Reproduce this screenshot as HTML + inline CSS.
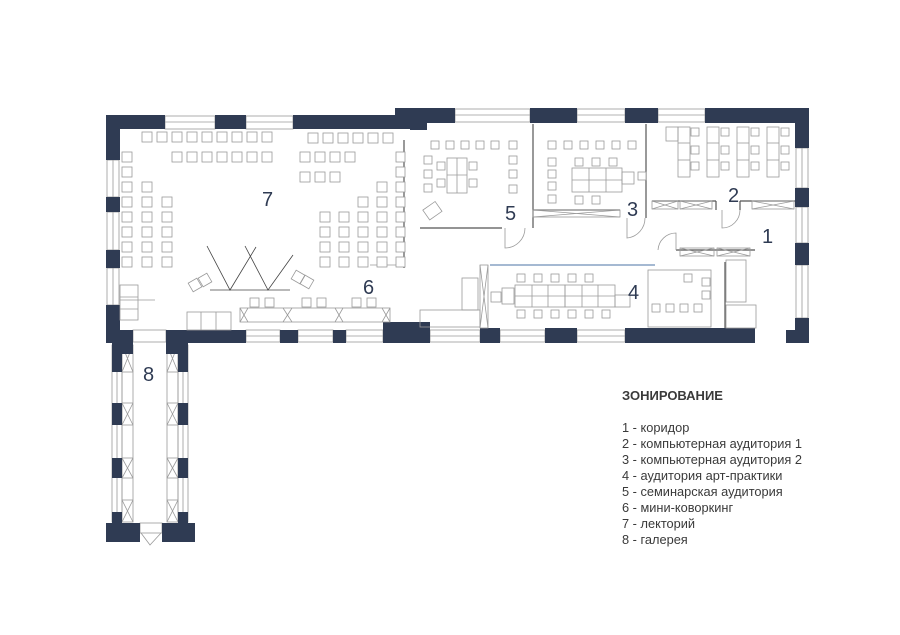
<!DOCTYPE html>
<html><head><meta charset="utf-8"><style>
body{margin:0;background:#fff;width:900px;height:635px;overflow:hidden}
svg{display:block}
.w{fill:#2f3b53}
.c{fill:#fff;stroke:#9a9a9a;stroke-width:0.8}
.l{stroke:#9a9a9a;stroke-width:0.8;fill:none}
.p{stroke:#555;stroke-width:1.2;fill:none}
.n{font-family:"Liberation Sans",sans-serif;font-size:20px;fill:#2f3b53}
.t{font-family:"Liberation Sans","Noto Sans CJK SC",sans-serif;font-size:12.8px;fill:#3a3a3a}
</style></head><body>
<svg width="900" height="635" viewBox="0 0 900 635">
<g class="l">
<rect x="165" y="116" width="50" height="13"/><line x1="165" y1="122" x2="215" y2="122"/>
<rect x="246" y="116" width="47" height="13"/><line x1="246" y1="122" x2="293" y2="122"/>
<rect x="455" y="109" width="75" height="13"/><line x1="455" y1="115" x2="530" y2="115"/>
<rect x="577" y="109" width="48" height="13"/><line x1="577" y1="115" x2="625" y2="115"/>
<rect x="658" y="109" width="47" height="13"/><line x1="658" y1="115" x2="705" y2="115"/>
<rect x="107" y="160" width="12" height="37"/><line x1="113" y1="160" x2="113" y2="197"/>
<rect x="107" y="212" width="12" height="38"/><line x1="113" y1="212" x2="113" y2="250"/>
<rect x="107" y="268" width="12" height="37"/><line x1="113" y1="268" x2="113" y2="305"/>
<rect x="796" y="148" width="12" height="40"/><line x1="802" y1="148" x2="802" y2="188"/>
<rect x="796" y="207" width="12" height="36"/><line x1="802" y1="207" x2="802" y2="243"/>
<rect x="796" y="265" width="12" height="53"/><line x1="802" y1="265" x2="802" y2="318"/>
<rect x="246" y="330" width="34" height="12"/><line x1="246" y1="336" x2="280" y2="336"/>
<rect x="298" y="330" width="35" height="12"/><line x1="298" y1="336" x2="333" y2="336"/>
<rect x="346" y="330" width="37" height="12"/><line x1="346" y1="336" x2="383" y2="336"/>
<rect x="430" y="330" width="50" height="12"/><line x1="430" y1="336" x2="480" y2="336"/>
<rect x="500" y="330" width="45" height="12"/><line x1="500" y1="336" x2="545" y2="336"/>
<rect x="577" y="330" width="48" height="12"/><line x1="577" y1="336" x2="625" y2="336"/>
<rect x="133" y="330" width="33" height="12"/>
<rect x="112" y="345" width="10" height="177"/><line x1="117" y1="345" x2="117" y2="522"/>
<rect x="178" y="345" width="10" height="177"/><line x1="183" y1="345" x2="183" y2="522"/>
<rect x="122" y="345" width="11" height="177"/><rect x="167" y="345" width="11" height="177"/>
</g>
<g class="l">
<path d="M122 345 L133 372 M133 345 L122 372 M122 403 L133 425 M133 403 L122 425 M122 458 L133 478 M133 458 L122 478 M122 500 L133 522 M133 500 L122 522"/>
<path d="M167 345 L178 372 M178 345 L167 372 M167 403 L178 425 M178 403 L167 425 M167 458 L178 478 M178 458 L167 478 M167 500 L178 522 M178 500 L167 522"/>
<line x1="122" y1="372" x2="133" y2="372"/><line x1="167" y1="372" x2="178" y2="372"/>
<line x1="122" y1="403" x2="133" y2="403"/><line x1="167" y1="403" x2="178" y2="403"/>
<line x1="122" y1="425" x2="133" y2="425"/><line x1="167" y1="425" x2="178" y2="425"/>
<line x1="122" y1="458" x2="133" y2="458"/><line x1="167" y1="458" x2="178" y2="458"/>
<line x1="122" y1="478" x2="133" y2="478"/><line x1="167" y1="478" x2="178" y2="478"/>
<line x1="122" y1="500" x2="133" y2="500"/><line x1="167" y1="500" x2="178" y2="500"/>
<rect x="140" y="523" width="22" height="10"/>
<path d="M141 533 L150 545 L161 533"/>
</g>
<g class="w">
<rect x="106" y="115" width="59" height="14"/>
<rect x="215" y="115" width="31" height="14"/>
<rect x="293" y="115" width="119" height="14"/>
<rect x="106" y="115" width="14" height="45"/>
<rect x="106" y="197" width="14" height="15"/>
<rect x="106" y="250" width="14" height="18"/>
<rect x="106" y="305" width="14" height="38"/>
<rect x="106" y="330" width="27" height="13"/>
<rect x="166" y="330" width="80" height="13"/>
<rect x="280" y="330" width="18" height="13"/>
<rect x="333" y="330" width="13" height="13"/>
<rect x="383" y="322" width="47" height="21"/>
<rect x="395" y="108" width="60" height="15"/>
<rect x="410" y="108" width="17" height="22"/>
<rect x="530" y="108" width="47" height="15"/>
<rect x="625" y="108" width="33" height="15"/>
<rect x="705" y="108" width="104" height="15"/>
<rect x="795" y="108" width="14" height="40"/>
<rect x="795" y="188" width="14" height="19"/>
<rect x="795" y="243" width="14" height="22"/>
<rect x="795" y="318" width="14" height="25"/>
<rect x="786" y="330" width="23" height="13"/>
<rect x="480" y="328" width="20" height="15"/>
<rect x="545" y="328" width="32" height="15"/>
<rect x="625" y="328" width="130" height="15"/>
<rect x="112" y="343" width="10" height="29"/><rect x="178" y="343" width="10" height="29"/>
<rect x="112" y="403" width="10" height="22"/><rect x="178" y="403" width="10" height="22"/>
<rect x="112" y="458" width="10" height="20"/><rect x="178" y="458" width="10" height="20"/>
<rect x="112" y="512" width="10" height="30"/><rect x="178" y="512" width="10" height="30"/>
<rect x="106" y="523" width="34" height="19"/><rect x="162" y="523" width="33" height="19"/>
<rect x="112" y="340" width="21" height="14"/><rect x="166" y="340" width="22" height="14"/>
</g>
<g class="p">
<line x1="533" y1="124" x2="533" y2="228"/>
<line x1="420" y1="228" x2="502" y2="228"/>
<line x1="533" y1="210" x2="620" y2="210"/>
<line x1="646" y1="124" x2="646" y2="218"/>
<line x1="652" y1="201" x2="716" y2="201"/>
<line x1="740" y1="201" x2="795" y2="201"/>
<line x1="716" y1="201" x2="716" y2="210"/><line x1="740" y1="201" x2="740" y2="210"/>
<line x1="725" y1="262" x2="725" y2="328"/>
<line x1="676" y1="250" x2="755" y2="250"/>
<line x1="404" y1="140" x2="404" y2="268"/>
</g>
<line x1="490" y1="265" x2="655" y2="265" stroke="#6f8fb8" stroke-width="1.2"/>
<g class="l">
<path d="M505 228 L505 248 A20 20 0 0 0 525 228"/>
<path d="M627 218 L627 238 A20 20 0 0 0 645 218"/>
<path d="M722 210 L722 228 A18 18 0 0 0 740 210"/>
<path d="M676 250 L676 233 A18 18 0 0 0 658 250"/>
<rect x="533" y="210" width="87" height="7"/><path d="M533 210 L620 217 M533 217 L620 210"/>
<rect x="652" y="201" width="26" height="8"/><path d="M652 201 L678 209 M652 209 L678 201"/>
<rect x="680" y="201" width="32" height="8"/><path d="M680 201 L712 209 M680 209 L712 201"/>
<rect x="752" y="201" width="42" height="8"/><path d="M752 201 L794 209 M752 209 L794 201"/>
<rect x="680" y="248" width="34" height="8"/><path d="M680 248 L714 256 M680 256 L714 248"/>
<rect x="717" y="248" width="33" height="8"/><path d="M717 248 L750 256 M717 256 L750 248"/>
<rect x="480" y="265" width="8" height="63"/><path d="M480 265 L488 328 M488 265 L480 328"/>
<rect x="515" y="285" width="50" height="22"/><rect x="565" y="285" width="50" height="22"/>
<line x1="515" y1="296" x2="615" y2="296"/><line x1="532" y1="285" x2="532" y2="307"/><line x1="548" y1="285" x2="548" y2="307"/><line x1="582" y1="285" x2="582" y2="307"/><line x1="598" y1="285" x2="598" y2="307"/>
<rect x="615" y="295" width="15" height="12"/><rect x="502" y="288" width="12" height="16"/><rect x="491" y="292" width="10" height="10"/>
<rect x="648" y="270" width="63" height="57"/>
<rect x="726" y="260" width="20" height="42"/><rect x="726" y="305" width="30" height="23"/>
<rect x="420" y="310" width="60" height="17"/><rect x="462" y="278" width="16" height="32"/>
<line x1="210" y1="290" x2="290" y2="290" stroke="#444"/>
<path d="M207 246 L230 290 L256 247 M245 246 L268 290 L293 255" stroke="#444"/>
<rect x="190" y="280" width="10" height="10" transform="rotate(-30 195 285)"/>
<rect x="200" y="275" width="10" height="10" transform="rotate(-30 205 280)"/>
<rect x="293" y="272" width="10" height="10" transform="rotate(30 298 277)"/>
<rect x="302" y="277" width="10" height="10" transform="rotate(30 307 282)"/>
<rect x="120" y="285" width="18" height="35"/><line x1="120" y1="297" x2="138" y2="297"/><line x1="120" y1="309" x2="138" y2="309"/>
<rect x="187" y="312" width="44" height="18"/><line x1="201" y1="312" x2="201" y2="330"/><line x1="216" y1="312" x2="216" y2="330"/>
<rect x="240" y="308" width="150" height="14"/>
<path d="M240 308 L248 322 M248 308 L240 322 M283 308 L292 322 M292 308 L283 322 M335 308 L343 322 M343 308 L335 322 M382 308 L390 322 M390 308 L382 322"/>
<rect x="447" y="158" width="20" height="35"/><line x1="457" y1="158" x2="457" y2="193"/><line x1="447" y1="175" x2="467" y2="175"/>
<rect x="425" y="205" width="15" height="12" transform="rotate(-35 432 211)"/>
<rect x="572" y="168" width="50" height="24"/><line x1="572" y1="180" x2="622" y2="180"/><line x1="589" y1="168" x2="589" y2="192"/><line x1="606" y1="168" x2="606" y2="192"/>
<rect x="622" y="172" width="12" height="12"/>
<rect x="678" y="127" width="12" height="50"/><rect x="707" y="127" width="12" height="50"/><rect x="737" y="127" width="12" height="50"/><rect x="767" y="127" width="12" height="50"/>
<line x1="678" y1="143" x2="690" y2="143"/><line x1="678" y1="160" x2="690" y2="160"/>
<line x1="707" y1="143" x2="719" y2="143"/><line x1="707" y1="160" x2="719" y2="160"/>
<line x1="737" y1="143" x2="749" y2="143"/><line x1="737" y1="160" x2="749" y2="160"/>
<line x1="767" y1="143" x2="779" y2="143"/><line x1="767" y1="160" x2="779" y2="160"/>
<rect x="666" y="127" width="12" height="14"/>
<path d="M120 300 L155 300 M370 265 L405 265"/>
</g>
<g class="c">
<rect x="142" y="132" width="10" height="10"/><rect x="157" y="132" width="10" height="10"/><rect x="172" y="132" width="10" height="10"/><rect x="187" y="132" width="10" height="10"/><rect x="202" y="132" width="10" height="10"/><rect x="217" y="132" width="10" height="10"/><rect x="232" y="132" width="10" height="10"/><rect x="247" y="132" width="10" height="10"/><rect x="262" y="132" width="10" height="10"/>
<rect x="308" y="133" width="10" height="10"/><rect x="323" y="133" width="10" height="10"/><rect x="338" y="133" width="10" height="10"/><rect x="353" y="133" width="10" height="10"/><rect x="368" y="133" width="10" height="10"/><rect x="383" y="133" width="10" height="10"/>
<rect x="172" y="152" width="10" height="10"/><rect x="187" y="152" width="10" height="10"/><rect x="202" y="152" width="10" height="10"/><rect x="217" y="152" width="10" height="10"/><rect x="232" y="152" width="10" height="10"/><rect x="247" y="152" width="10" height="10"/><rect x="262" y="152" width="10" height="10"/>
<rect x="300" y="152" width="10" height="10"/><rect x="315" y="152" width="10" height="10"/><rect x="330" y="152" width="10" height="10"/><rect x="345" y="152" width="10" height="10"/>
<rect x="300" y="172" width="10" height="10"/><rect x="315" y="172" width="10" height="10"/><rect x="330" y="172" width="10" height="10"/>
<rect x="122" y="152" width="10" height="10"/><rect x="122" y="167" width="10" height="10"/><rect x="122" y="182" width="10" height="10"/><rect x="122" y="197" width="10" height="10"/><rect x="122" y="212" width="10" height="10"/><rect x="122" y="227" width="10" height="10"/><rect x="122" y="242" width="10" height="10"/><rect x="122" y="257" width="10" height="10"/>
<rect x="142" y="182" width="10" height="10"/><rect x="142" y="197" width="10" height="10"/><rect x="142" y="212" width="10" height="10"/><rect x="142" y="227" width="10" height="10"/><rect x="142" y="242" width="10" height="10"/><rect x="142" y="257" width="10" height="10"/>
<rect x="162" y="197" width="10" height="10"/><rect x="162" y="212" width="10" height="10"/><rect x="162" y="227" width="10" height="10"/><rect x="162" y="242" width="10" height="10"/><rect x="162" y="257" width="10" height="10"/>
<rect x="320" y="212" width="10" height="10"/><rect x="320" y="227" width="10" height="10"/><rect x="320" y="242" width="10" height="10"/><rect x="320" y="257" width="10" height="10"/>
<rect x="339" y="212" width="10" height="10"/><rect x="339" y="227" width="10" height="10"/><rect x="339" y="242" width="10" height="10"/><rect x="339" y="257" width="10" height="10"/>
<rect x="358" y="197" width="10" height="10"/><rect x="358" y="212" width="10" height="10"/><rect x="358" y="227" width="10" height="10"/><rect x="358" y="242" width="10" height="10"/><rect x="358" y="257" width="10" height="10"/>
<rect x="377" y="182" width="10" height="10"/><rect x="377" y="197" width="10" height="10"/><rect x="377" y="212" width="10" height="10"/><rect x="377" y="227" width="10" height="10"/><rect x="377" y="242" width="10" height="10"/><rect x="377" y="257" width="10" height="10"/>
<rect x="396" y="152" width="9" height="10"/><rect x="396" y="167" width="9" height="10"/><rect x="396" y="182" width="9" height="10"/><rect x="396" y="197" width="9" height="10"/><rect x="396" y="212" width="9" height="10"/><rect x="396" y="227" width="9" height="10"/><rect x="396" y="242" width="9" height="10"/><rect x="396" y="257" width="9" height="10"/>
<rect x="250" y="298" width="9" height="9"/><rect x="265" y="298" width="9" height="9"/><rect x="302" y="298" width="9" height="9"/><rect x="317" y="298" width="9" height="9"/><rect x="352" y="298" width="9" height="9"/><rect x="367" y="298" width="9" height="9"/>
<rect x="431" y="141" width="8" height="8"/><rect x="446" y="141" width="8" height="8"/><rect x="461" y="141" width="8" height="8"/><rect x="476" y="141" width="8" height="8"/><rect x="491" y="141" width="8" height="8"/><rect x="509" y="141" width="8" height="8"/>
<rect x="424" y="156" width="8" height="8"/><rect x="424" y="170" width="8" height="8"/><rect x="424" y="184" width="8" height="8"/>
<rect x="509" y="156" width="8" height="8"/><rect x="509" y="170" width="8" height="8"/><rect x="509" y="185" width="8" height="8"/>
<rect x="437" y="162" width="8" height="8"/><rect x="437" y="179" width="8" height="8"/><rect x="469" y="162" width="8" height="8"/><rect x="469" y="179" width="8" height="8"/>
<rect x="548" y="141" width="8" height="8"/><rect x="564" y="141" width="8" height="8"/><rect x="580" y="141" width="8" height="8"/><rect x="596" y="141" width="8" height="8"/><rect x="612" y="141" width="8" height="8"/><rect x="628" y="141" width="8" height="8"/>
<rect x="548" y="158" width="8" height="8"/><rect x="548" y="170" width="8" height="8"/><rect x="548" y="182" width="8" height="8"/><rect x="548" y="195" width="8" height="8"/>
<rect x="575" y="158" width="8" height="8"/><rect x="592" y="158" width="8" height="8"/><rect x="609" y="158" width="8" height="8"/>
<rect x="575" y="196" width="8" height="8"/><rect x="592" y="196" width="8" height="8"/><rect x="638" y="172" width="8" height="8"/>
<rect x="691" y="128" width="8" height="8"/><rect x="691" y="146" width="8" height="8"/><rect x="691" y="162" width="8" height="8"/>
<rect x="721" y="128" width="8" height="8"/><rect x="721" y="146" width="8" height="8"/><rect x="721" y="162" width="8" height="8"/>
<rect x="751" y="128" width="8" height="8"/><rect x="751" y="146" width="8" height="8"/><rect x="751" y="162" width="8" height="8"/>
<rect x="781" y="128" width="8" height="8"/><rect x="781" y="146" width="8" height="8"/><rect x="781" y="162" width="8" height="8"/>
<rect x="517" y="274" width="8" height="8"/><rect x="534" y="274" width="8" height="8"/><rect x="551" y="274" width="8" height="8"/><rect x="568" y="274" width="8" height="8"/><rect x="585" y="274" width="8" height="8"/>
<rect x="517" y="310" width="8" height="8"/><rect x="534" y="310" width="8" height="8"/><rect x="551" y="310" width="8" height="8"/><rect x="568" y="310" width="8" height="8"/><rect x="585" y="310" width="8" height="8"/><rect x="602" y="310" width="8" height="8"/>
<rect x="684" y="274" width="8" height="8"/><rect x="702" y="278" width="8" height="8"/><rect x="702" y="291" width="8" height="8"/>
<rect x="652" y="304" width="8" height="8"/><rect x="666" y="304" width="8" height="8"/><rect x="680" y="304" width="8" height="8"/><rect x="694" y="304" width="8" height="8"/>
</g>
<text class="n" x="262" y="206">7</text>
<text class="n" x="363" y="294">6</text>
<text class="n" x="505" y="220">5</text>
<text class="n" x="627" y="216">3</text>
<text class="n" x="728" y="202">2</text>
<text class="n" x="762" y="243">1</text>
<text class="n" x="628" y="299">4</text>
<text class="n" x="143" y="381">8</text>
<text class="t" x="622" y="400" style="font-weight:bold;font-size:13px">ЗОНИРОВАНИЕ</text>
<text class="t" x="622" y="432">1 - коридор</text>
<text class="t" x="622" y="448">2 - компьютерная аудитория 1</text>
<text class="t" x="622" y="464">3 - компьютерная аудитория 2</text>
<text class="t" x="622" y="480">4 - аудитория арт-практики</text>
<text class="t" x="622" y="496">5 - семинарская аудитория</text>
<text class="t" x="622" y="512">6 - мини-коворкинг</text>
<text class="t" x="622" y="528">7 - лекторий</text>
<text class="t" x="622" y="544">8 - галерея</text>
</svg>
</body></html>
